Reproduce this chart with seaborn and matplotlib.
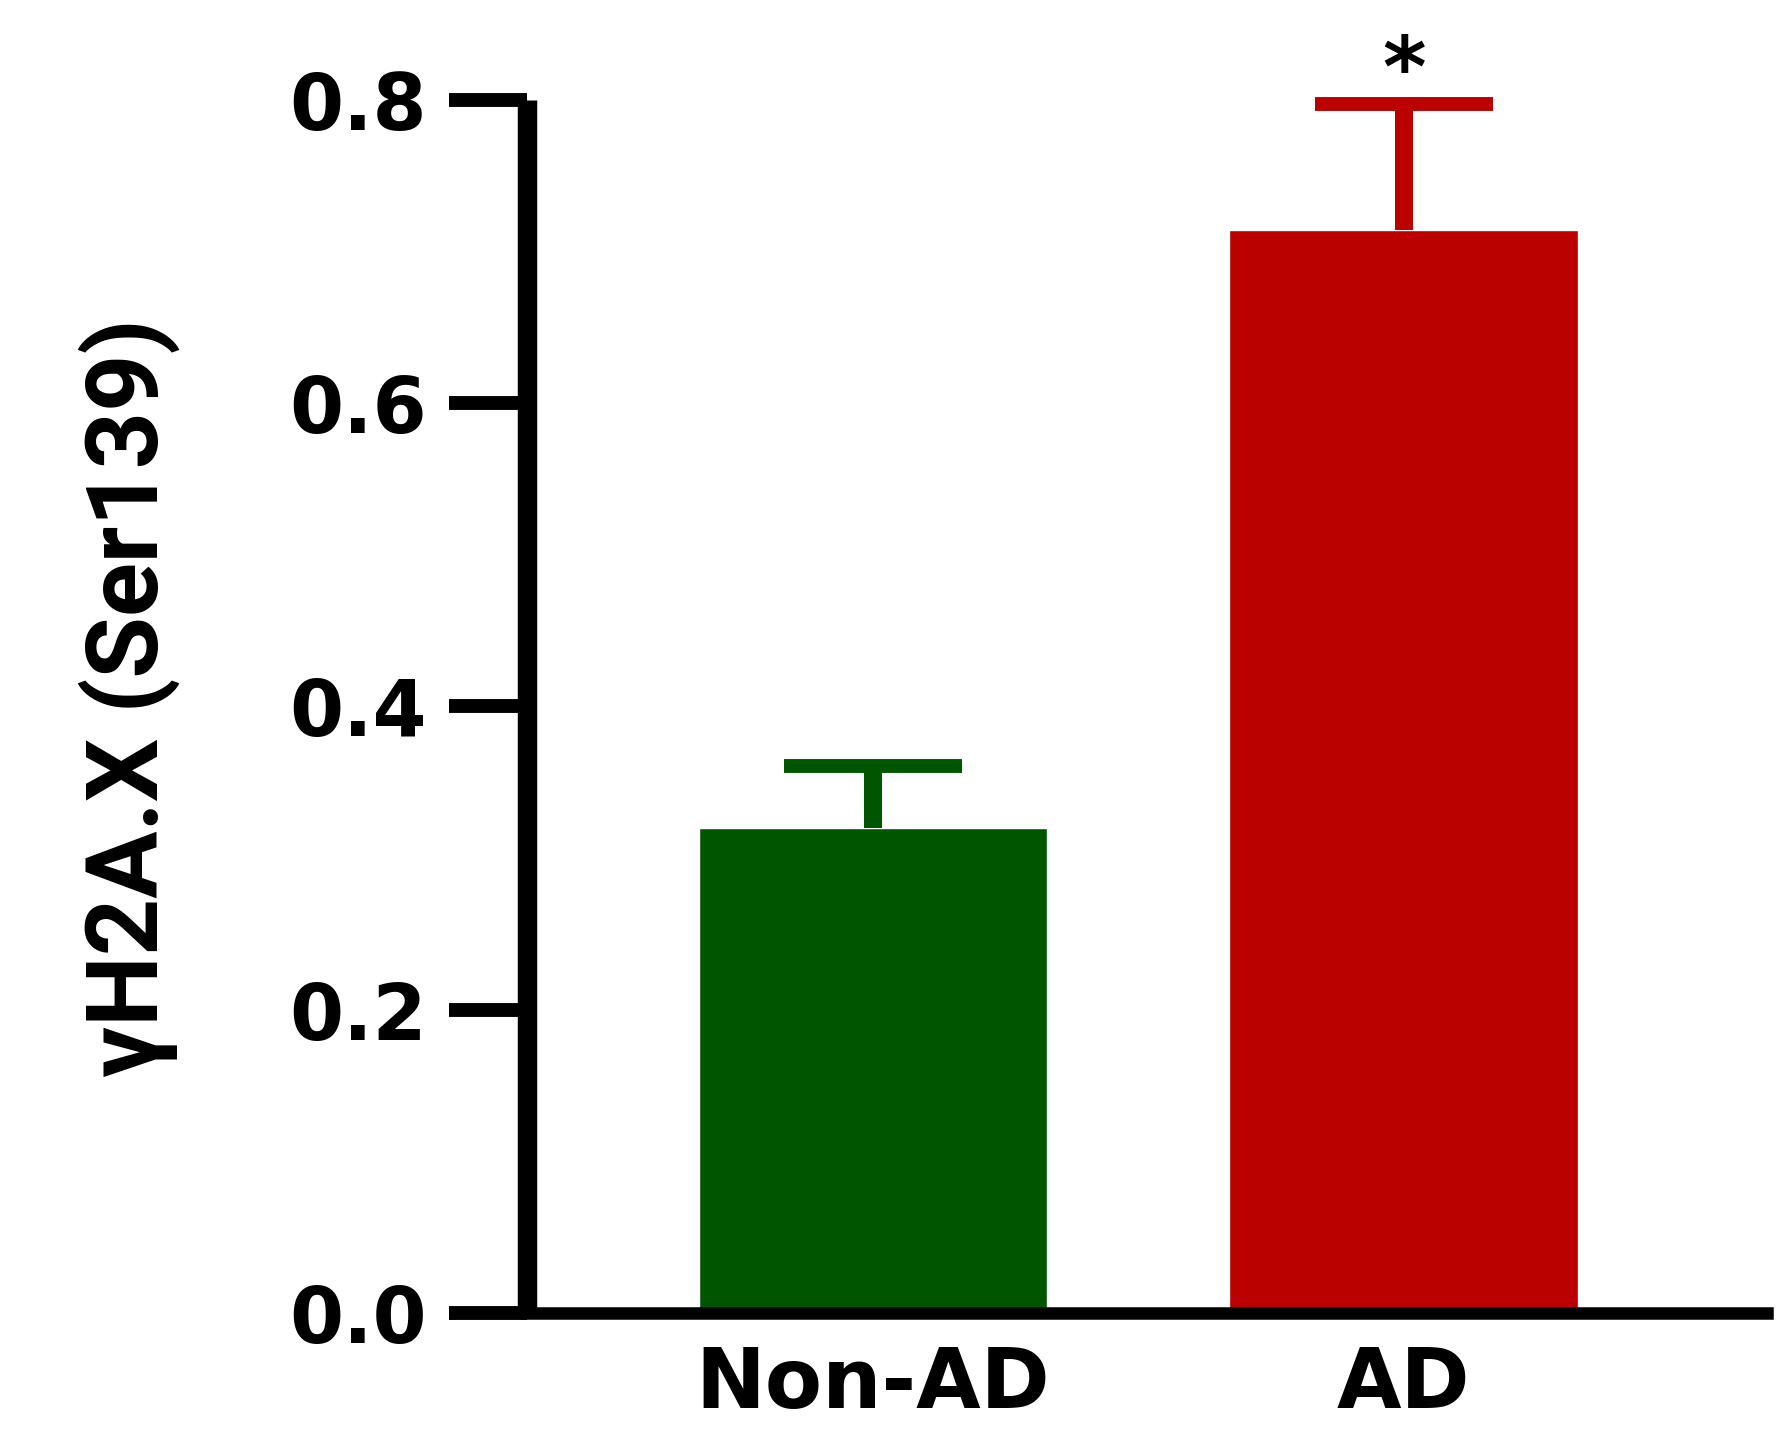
import matplotlib
matplotlib.use("Agg")
from matplotlib import pyplot as plt
from matplotlib.font_manager import FontProperties
import pandas as pd
import seaborn as sns

# values
groups = ["Non-AD", "AD"]
means = [0.320, 0.714]
sems = [0.041, 0.083]
colors = ["#005600", "#bb0000"]
sig_marks = ["", "*"]

df = pd.DataFrame({"group": groups, "value": means})

sns.set_style("white")
plt.rcParams["font.family"] = ["DejaVu Sans"]
plt.rcParams["text.color"] = "black"
plt.rcParams["axes.edgecolor"] = "black"
plt.rcParams["xtick.color"] = "black"
plt.rcParams["ytick.color"] = "black"

fig = plt.figure(figsize=(17.9, 14.29), dpi=100)
ax = fig.add_axes([0.2944, 0.0812, 0.6926, 0.902])

sns.barplot(data=df, x="group", y="value", hue="group", palette=colors,
            width=0.657, errorbar=None, legend=False, saturation=1, ax=ax)

# upper error bars only
for i in range(len(groups)):
    eb = ax.errorbar(i, means[i], yerr=[[0], [sems[i]]], fmt="none",
                     ecolor=colors[i], elinewidth=13, capsize=64,
                     capthick=10, zorder=1)
    eb[1][0].set_visible(False)  # hide the cap sitting on the bar top
    if sig_marks[i]:
        ax.text(i, 0.818, sig_marks[i], ha="center", va="center",
                fontsize=60, fontweight="bold", clip_on=False)

ax.set_ylim(0, 0.85)
ax.set_xlim(-0.652, 1.684)
ax.set_yticks([0.0, 0.2, 0.4, 0.6, 0.8])
ax.set_yticklabels(["0.0", "0.2", "0.4", "0.6", "0.8"])

sns.despine(ax=ax)
ax.spines["left"].set_bounds(0, 0.8)
ax.spines["left"].set_linewidth(14)
ax.spines["left"].set_capstyle("butt")
ax.spines["bottom"].set_linewidth(9)

ax.tick_params(axis="y", length=56, width=10, pad=16, labelsize=56, left=True)
ax.tick_params(axis="x", length=0, pad=22, labelsize=60)
for lab in ax.get_yticklabels() + ax.get_xticklabels():
    lab.set_fontweight("bold")

ax.set_xlabel("")
ax.set_ylabel("")
label_font = FontProperties(family=["Roboto", "DejaVu Sans"],
                            weight="bold", size=72)
fig.text(0.072, 0.512, "γH2A.X (Ser139)", rotation=90, ha="center",
         va="center", fontproperties=label_font)

fig.savefig("out.png", dpi=100)
